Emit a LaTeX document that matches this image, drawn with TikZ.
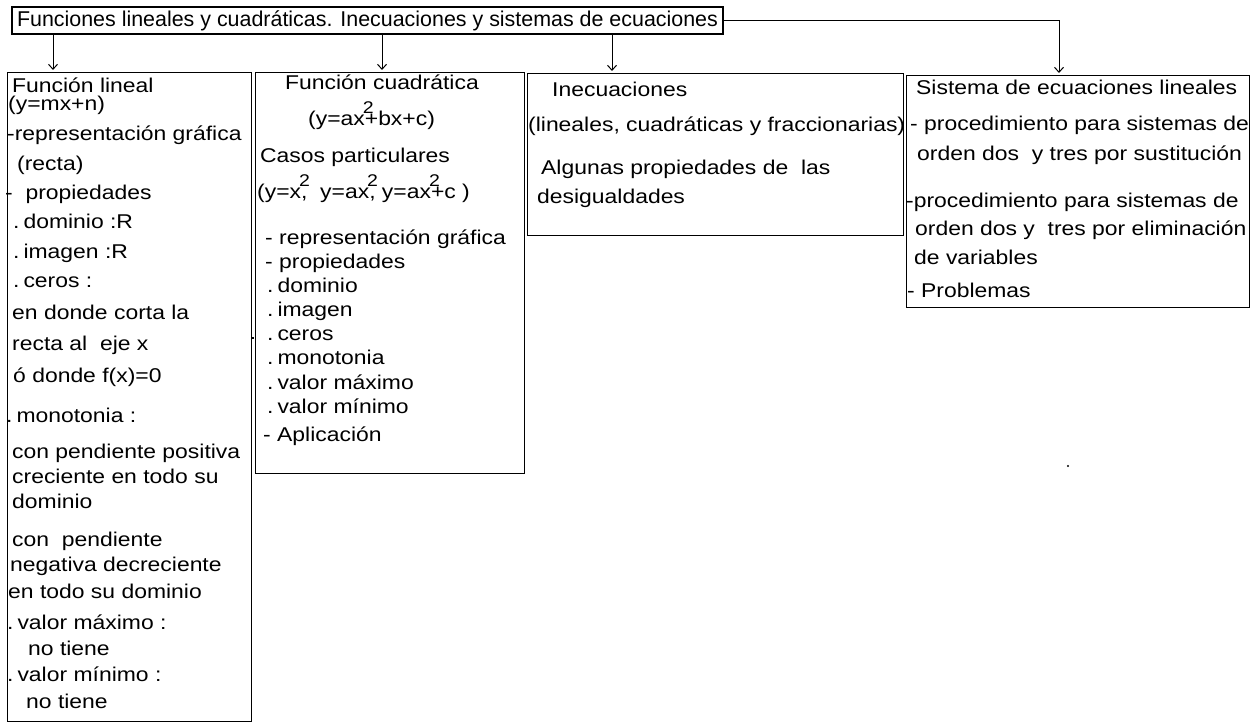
\documentclass[tikz,border=0pt]{standalone}
\usepackage{fontspec}
\setmainfont{Liberation Sans}[FakeStretch=1.15]
\newfontfamily\titlefont{Liberation Sans}
\usetikzlibrary{arrows.meta}
\newcommand\sqtwo{\makebox[0pt][l]{\raisebox{0.62em}{\fontsize{17}{17}\selectfont\kern-0.12em 2}}}
\newcommand\dt{.\hspace{0.2em}}
\begin{document}
\begin{tikzpicture}[x=1bp,y=-1bp,
  font=\fontsize{20}{24}\selectfont,
  box/.style={draw, line width=1.1bp, inner sep=0, anchor=north west},
  tx/.style={anchor=base west, inner sep=0},
  arr/.style={line width=1bp, -{Straight Barb[length=5bp,width=9bp]}}]
\useasboundingbox (0,0) rectangle (1260,726);

% title
\node[draw, line width=1.1bp, minimum width=711bp, minimum height=27bp, inner sep=0,
      font=\titlefont\fontsize{21.5}{24}\selectfont] (title) at (367.5,20.5)
  {Funciones lineales y cuadráticas. Inecuaciones y sistemas de ecuaciones};

% boxes
\node[box, minimum width=244bp, minimum height=649bp] (b1) at (7,72) {};
\node[box, minimum width=269bp, minimum height=401bp] (b2) at (255,72) {};
\node[box, minimum width=376bp, minimum height=162bp] (b3) at (527,73) {};
\node[box, minimum width=343bp, minimum height=232bp] (b4) at (906,75) {};

% connectors
\coordinate (a1) at (53,0);
\coordinate (a2) at (382,0);
\coordinate (a3) at (612,0);
\coordinate (a4) at (1059,0);
\draw[arr] (title.south -| a1) -- ([yshift=2bp]b1.north -| a1);
\draw[arr] (title.south -| a2) -- ([yshift=2bp]b2.north -| a2);
\draw[arr] (title.south -| a3) -- ([yshift=2bp]b3.north -| a3);
\draw[arr] (title.east) -| ([yshift=2bp]b4.north -| a4);

% box 1 text
\node[tx] (l1)  at (12,93)  {Función lineal};
\node[tx] (l2)  at (8,111)  {(y=mx+n)};
\node[tx] (l3)  at (7,141)  {-representación gráfica};
\node[tx] (l4)  at (17,171) {(recta)};
\node[tx] (l5)  at (5,200)  {- \ propiedades};
\node[tx] (l6)  at (13,229) {\dt dominio :R};
\node[tx] (l7)  at (13,258) {\dt imagen :R};
\node[tx] (l8)  at (13,287) {\dt ceros :};
\node[tx] (l9)  at (12,319) {en donde corta la};
\node[tx] (l10) at (12,350) {recta al \ eje x};
\node[tx] (l11) at (13,382) {ó donde f(x)=0};
\node[tx] (l12) at (6,422)  {\dt monotonia :};
\node[tx] (l13) at (12,458) {con pendiente positiva};
\node[tx] (l14) at (12,483) {creciente en todo su};
\node[tx] (l15) at (12,508) {dominio};
\node[tx] (l16) at (12,546) {con \ pendiente};
\node[tx] (l17) at (10,571) {negativa decreciente};
\node[tx] (l18) at (8,598)  {en todo su dominio};
\node[tx] (l19) at (7,629)  {\dt valor máximo :};
\node[tx] (l20) at (28,655) {no tiene};
\node[tx] (l21) at (7,681)  {\dt valor mínimo :};
\node[tx] (l22) at (26,708) {no tiene};

% box 2 text
\node[tx] (m1)  at (285,90)  {Función cuadrática};
\node[tx] (m2)  at (308,126) {(y=ax\sqtwo+bx+c)};
\node[tx] (m3)  at (260,163) {Casos particulares};
\node[tx] (m4)  at (257,199) {(y=x\sqtwo, \ y=ax\sqtwo, y=ax\sqtwo+c )};
\node[tx] (m5)  at (265,245) {- representación gráfica};
\node[tx] (m6)  at (265,268) {- propiedades};
\node[tx] (m7)  at (267,292) {\dt dominio};
\node[tx] (m8)  at (267,316) {\dt imagen};
\node[tx] (m9)  at (267,340) {\dt ceros};
\node[tx] (m10) at (267,364) {\dt monotonia};
\node[tx] (m11) at (267,389) {\dt valor máximo};
\node[tx] (m12) at (267,413) {\dt valor mínimo};
\node[tx] (m13) at (263,441) {- Aplicación};

% box 3 text
\node[tx] (n1) at (552,97)  {Inecuaciones};
\node[tx] (n2) at (528,132) {(lineales, cuadráticas y fraccionarias)};
\node[tx] (n3) at (541,175) {Algunas propiedades de \ las};
\node[tx] (n4) at (537,204) {desigualdades};

% box 4 text
\node[tx] (s1) at (916,95)  {Sistema de ecuaciones lineales};
\node[tx] (s2) at (910,131) {- procedimiento para sistemas de};
\node[tx] (s3) at (917,161) {orden dos \ y tres por sustitución};
\node[tx] (s4) at (906,208) {-procedimiento para sistemas de};
\node[tx] (s5) at (915,236) {orden dos y \ tres por eliminación};
\node[tx] (s6) at (914,264) {de variables};
\node[tx] (s7) at (907,297) {- Problemas};

% stray marks
\fill (1068,466) circle (1.2bp);
\fill (251,337) rectangle (254,338.5);
\end{tikzpicture}
\end{document}
